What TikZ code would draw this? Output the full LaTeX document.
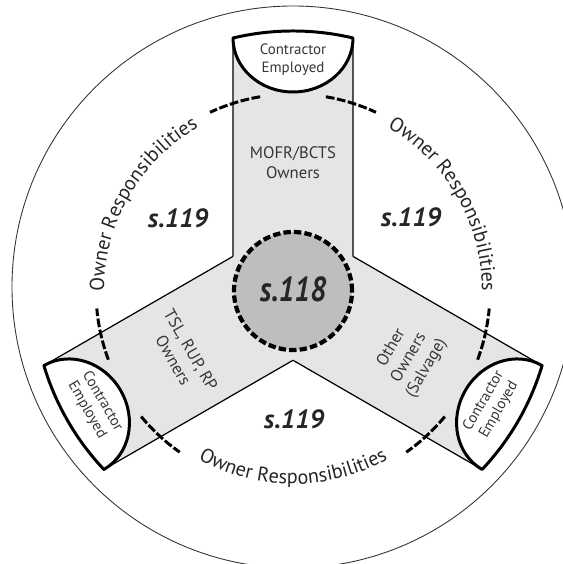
\documentclass[tikz,border=0pt]{standalone}
\usepackage{fontspec}
\setmainfont{PT Sans}
\usetikzlibrary{decorations.text}
\definecolor{armgray}{RGB}{229,229,229}
\definecolor{hubgray}{RGB}{190,190,190}
\definecolor{inkgray}{RGB}{55,55,55}
\newcommand\respfont{\fontsize{11.5}{13}\selectfont}
\tikzset{
  every node/.style={font=\fontsize{9.5}{11.5}\selectfont, text=inkgray, align=center},
  arm fill/.style={fill=armgray},
  arm edge/.style={line width=0.7pt},
  cap line/.style={line width=1.7pt, fill=white, line join=round},
  resp dash/.style={line width=1.7pt, dash pattern=on 5pt off 1.4pt},
  hub ring/.style={line width=2.4pt, dash pattern=on 4.2pt off 1.8pt, fill=hubgray},
  sec label/.style={font=\fontsize{15}{18}\selectfont\bfseries\itshape, text=black!85},
  cap label/.style={font=\fontsize{8.5}{10}\selectfont},
  resp text/.style={decorate, decoration={text along path, text align=center,
    text color=black!85, text={|\respfont|Owner Responsibilities}}}
}

\begin{document}
\begin{tikzpicture}[x=0.02cm,y=0.02cm]
  \useasboundingbox (-293,-273) rectangle (269,291);

  % outer ring
  \draw[line width=0.5pt, black!80] (0,4) circle[radius=281];

  % the three arms
  \foreach \a in {0,120,240} {
    \fill[arm fill, rotate=\a] (-60,0) -- (60,0) -- (60,253) -- (-60,253) -- cycle;
  }
  \foreach \a in {0,120,240} {
    \begin{scope}[rotate=\a]
      \draw[arm edge] (150:69.28) -- (-60,253);
      \draw[arm edge] (30:69.28) -- (60,253);
      \draw[cap line] (-60,253) arc[start angle=180, end angle=360, x radius=60, y radius=54]
        arc[start angle=76.66, end angle=103.34, radius=260] -- cycle;
    \end{scope}
  }

  % dashed ties across the arms
  \foreach \a in {90,210,330} {
    \draw[resp dash] ({\a+9.6}:197) arc[start angle={\a+9.6}, end angle={\a+24.9}, radius=197];
    \draw[resp dash] ({\a-9.6}:197) arc[start angle={\a-9.6}, end angle={\a-24.9}, radius=197];
  }

  % owner responsibilities
  \path[resp text] (185:189) arc[start angle=185, end angle=115, radius=189];
  \path[resp text] (65:189) arc[start angle=65, end angle=-5, radius=189];
  \path[resp text] (235:193) arc[start angle=235, end angle=305, radius=193];

  % hub
  \draw[hub ring] (0,0) circle[radius=59];
  \node[sec label, font=\fontsize{16.5}{19}\selectfont\bfseries\itshape, yscale=1.2] (s118) at (0,2) {s.118};

  \node[sec label] (s119a) at (-115,73) {s.119};
  \node[sec label] (s119b) at (118,74) {s.119};
  \node[sec label] (s119c) at (1,-128) {s.119};

  \node (mofr) at (90:128) {MOFR/BCTS\\Owners};
  \node[rotate=-60] (tsl) at (210:128) {TSL, RUP, RP\\Owners};
  \node[rotate=60] (other) at (330:134) {Other\\Owners\\(Salvage)};

  \node[cap label] (capa) at (90:231) {Contractor\\Employed};
  \node[cap label, rotate=-60] (capb) at (210:229) {Contractor\\Employed};
  \node[cap label, rotate=60] (capc) at (330:229) {Contractor\\Employed};
\end{tikzpicture}
\end{document}
